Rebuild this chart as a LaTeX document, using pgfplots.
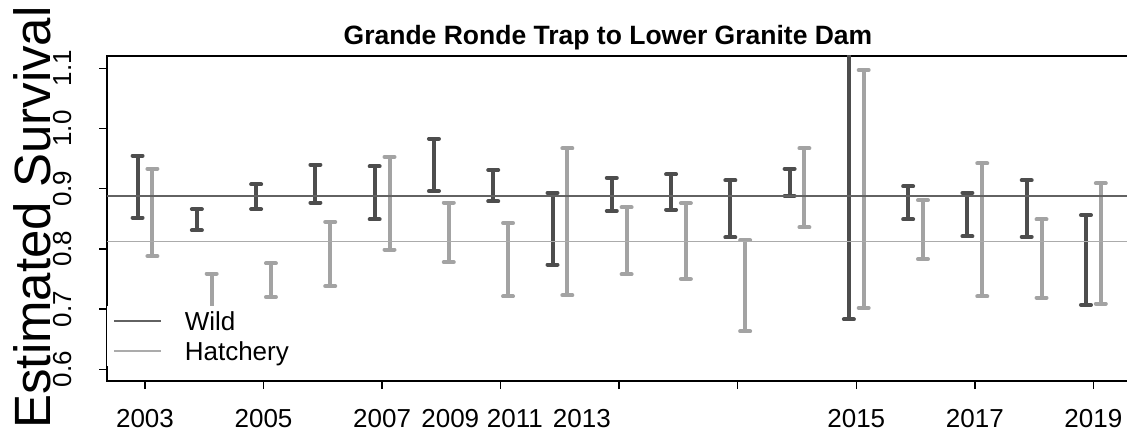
\documentclass[border=0pt]{standalone}
\usepackage{fontspec}
\setmainfont{Liberation Sans}
\usepackage{pgfplots}
\pgfplotsset{compat=1.18}
\usepackage{pgfplotstable}

\definecolor{wildc}{HTML}{4D4D4D}
\definecolor{hatchc}{HTML}{A3A3A3}
\definecolor{meanwild}{HTML}{626262}
\definecolor{meanhatch}{HTML}{ABABAB}

\pgfplotstableread{
year lo hi
2003 0.852 0.955
2004 0.831 0.866
2005 0.866 0.907
2006 0.877 0.940
2007 0.849 0.937
2008 0.896 0.983
2009 0.879 0.931
2010 0.774 0.893
2011 0.863 0.918
2012 0.865 0.924
2013 0.819 0.914
2014 0.888 0.933
2015 0.683 1.160
2016 0.849 0.904
2017 0.821 0.893
2018 0.820 0.914
2019 0.707 0.856
}\wild

\pgfplotstableread{
year lo hi
2003 0.788 0.933
2004 0.690 0.759
2005 0.720 0.776
2006 0.738 0.845
2007 0.799 0.953
2008 0.778 0.877
2009 0.721 0.843
2010 0.723 0.967
2011 0.758 0.869
2012 0.750 0.876
2013 0.663 0.814
2014 0.836 0.967
2015 0.702 1.097
2016 0.783 0.881
2017 0.721 0.942
2018 0.719 0.849
2019 0.709 0.909
}\hatch

\begin{document}
\begin{tikzpicture}[x=1pt,y=1pt]
\path[use as bounding box] (0,0) rectangle (1127,431);
\begin{axis}[
  at={(107pt,50pt)}, anchor=south west,
  scale only axis, width=1035pt, height=325pt,
  xmin=2002.359, xmax=2019.82, ymin=0.5806, ymax=1.1204,
  axis line style={line width=1.8pt},
  tick style={line width=1.5pt, black},
  major tick length=8pt, tick align=outside,
  xtick pos=bottom, ytick pos=left,
  xtick={2003,2005,...,2019},
  xticklabels={2003,2005,2007,,,,2015,2017,2019},
  extra x ticks={2008.15,2009.24,2010.37},
  extra x tick labels={2009,2011,2013},
  extra x tick style={tick style={draw=none}},
  ytick={0.6,0.7,...,1.1},
  yticklabels={0.6,0.7,0.8,0.9,1.0,1.1},
  ticklabel style={font=\fontsize{26}{30}\selectfont},
  xticklabel style={anchor=base, inner sep=0pt, yshift=-38pt},
  yticklabel style={xshift=-28pt, rotate=90, anchor=base, inner sep=0pt},
  legend style={at={(axis description cs:0,0.2308)}, anchor=north west,
    draw=none, fill=white, inner xsep=6pt, inner ysep=1pt,
    column sep=23pt, row sep=2pt,
    nodes={inner sep=0pt, text height=23pt, text depth=5pt, font=\fontsize{26}{30}\selectfont}},
  legend cell align=left,
  legend image code/.code={\draw[#1] (0pt,0pt) -- (47pt,0pt);},
]
\addplot[draw=none, mark=none, forget plot,
  error bars/.cd, y dir=both, y explicit,
  error bar style={draw=wildc, line width=4pt},
  error mark options={rotate=90, mark size=5pt, line width=4pt, draw=wildc, line cap=round}]
  table[x expr=\thisrow{year}-0.125, y expr=(\thisrow{lo}+\thisrow{hi})/2, y error expr=(\thisrow{hi}-\thisrow{lo})/2] {\wild};
\addplot[draw=none, mark=none, forget plot,
  error bars/.cd, y dir=both, y explicit,
  error bar style={draw=hatchc, line width=4pt},
  error mark options={rotate=90, mark size=5pt, line width=4pt, draw=hatchc, line cap=round}]
  table[x expr=\thisrow{year}+0.125, y expr=(\thisrow{lo}+\thisrow{hi})/2, y error expr=(\thisrow{hi}-\thisrow{lo})/2] {\hatch};
\addplot[meanwild, line width=1.6pt] coordinates {(2000,0.888) (2022,0.888)};
\addlegendentry{Wild}
\addplot[meanhatch, line width=1.6pt] coordinates {(2000,0.812) (2022,0.812)};
\addlegendentry{Hatchery}
\end{axis}
\node[rotate=90, anchor=base, font=\fontsize{51}{60}\selectfont] at (50,213.5) {Estimated Survival};
\node[anchor=base, font=\bfseries\fontsize{26.5}{30}\selectfont] at (608,386) {Grande Ronde Trap to Lower Granite Dam};
\end{tikzpicture}
\end{document}
